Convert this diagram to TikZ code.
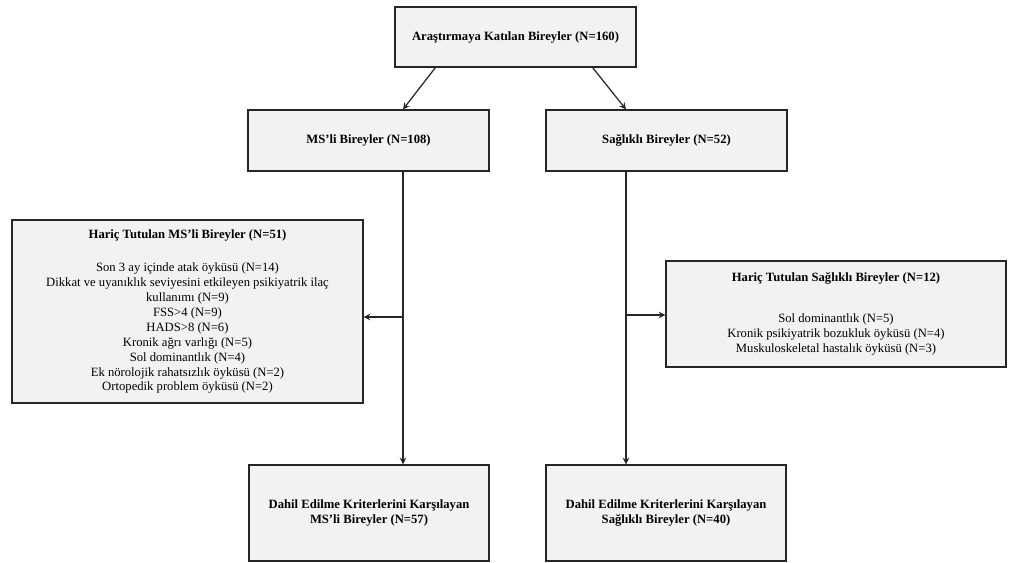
\documentclass[tikz,border=0pt]{standalone}
\usepackage{fontspec}
\setmainfont{Liberation Serif}
\usetikzlibrary{arrows}
\definecolor{boxgray}{HTML}{F2F2F2}
\definecolor{edgegray}{HTML}{262626}
\tikzstyle{block} = [draw=edgegray, fill=boxgray, rectangle, line width=0.7pt,
    align=center, font=\fontsize{7.2}{8.5}\selectfont]
\tikzstyle{arrow} = [line width=0.7pt, draw=edgegray, ->, >=stealth]

\begin{document}
\begin{tikzpicture}
    \useasboundingbox (0,0) rectangle (20.18,-11.26);

    \node [block, minimum width=4.82cm, minimum height=1.2cm] (all) at (10.31,-0.74) {\textbf{Araştırmaya Katılan Bireyler (N=160)}};

    \node [block, minimum width=4.82cm, minimum height=1.22cm] (ms) at (7.37,-2.81) {\textbf{MS’li Bireyler (N=108)}};
    \node [block, minimum width=4.82cm, minimum height=1.22cm] (hc) at (13.33,-2.81) {\textbf{Sağlıklı Bireyler (N=52)}};

    \node [block, minimum width=7.02cm, minimum height=3.66cm] (exms) at (3.75,-6.23) {\textbf{Hariç Tutulan MS’li Bireyler (N=51)}\\[10.5pt]
        Son 3 ay içinde atak öyküsü (N=14)\\
        Dikkat ve uyanıklık seviyesini etkileyen psikiyatrik ilaç\\
        kullanımı (N=9)\\
        FSS>4 (N=9)\\
        HADS>8 (N=6)\\
        Kronik ağrı varlığı (N=5)\\
        Sol dominantlık (N=4)\\
        Ek nörolojik rahatsızlık öyküsü (N=2)\\
        Ortopedik problem öyküsü (N=2)};
    \node [block, minimum width=6.8cm, minimum height=2.12cm] (exhc) at (16.72,-6.28) {\textbf{Hariç Tutulan Sağlıklı Bireyler (N=12)}\\[15pt]
        Sol dominantlık (N=5)\\
        Kronik psikiyatrik bozukluk öyküsü (N=4)\\
        Muskuloskeletal hastalık öyküsü (N=3)};

    \node [block, minimum width=4.8cm, minimum height=1.92cm] (inms) at (7.38,-10.26) {\textbf{Dahil Edilme Kriterlerini Karşılayan}\\\textbf{MS’li Bireyler (N=57)}};
    \node [block, minimum width=4.8cm, minimum height=1.92cm] (inhc) at (13.32,-10.26) {\textbf{Dahil Edilme Kriterlerini Karşılayan}\\\textbf{Sağlıklı Bireyler (N=40)}};

    \coordinate (jms) at (8.06,-6.34);
    \coordinate (jhc) at (12.52,-6.30);

    \draw [arrow] ([xshift=0.82cm]all.south west) -- ([xshift=0.69cm]ms.north);
    \draw [arrow] ([xshift=-0.88cm]all.south east) -- ([xshift=-0.81cm]hc.north);
    \draw [arrow] ([xshift=0.69cm]ms.south) -- ([xshift=0.68cm]inms.north);
    \draw [arrow] ([xshift=-0.81cm]hc.south) -- ([xshift=-0.80cm]inhc.north);
    \draw [arrow] (jms) -- (jms -| exms.east);
    \draw [arrow] (jhc) -- (jhc -| exhc.west);
\end{tikzpicture}
\end{document}
